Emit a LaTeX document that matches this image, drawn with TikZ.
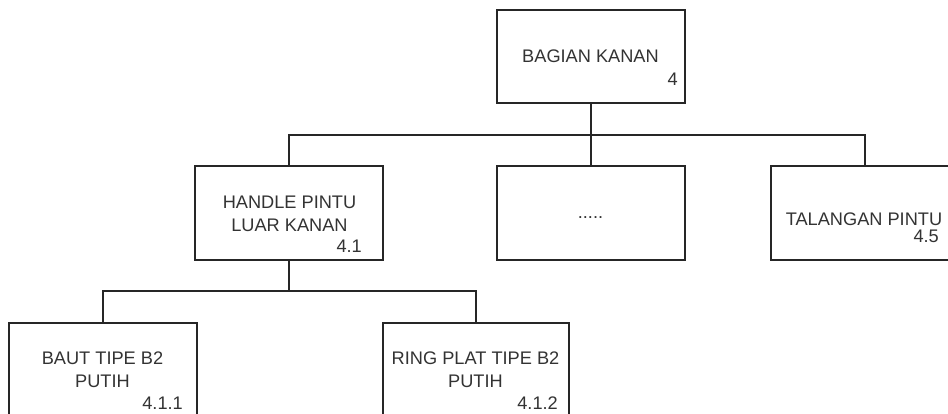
\documentclass[tikz,border=0pt]{standalone}
\usepackage{fontspec}
\setmainfont{Liberation Sans}
\begin{document}
\begin{tikzpicture}[x=1pt,y=-1pt,
  box/.style={draw=black!85,line width=1.5pt,rectangle,inner sep=0pt,fill=white},
  conn/.style={draw=black!85,line width=1.5pt},
  txt/.style={inner sep=0pt,anchor=base,text=black!80,font=\fontsize{18.2}{21}\selectfont},
  num/.style={inner sep=0pt,anchor=base east,text=black!80,font=\fontsize{18.2}{21}\selectfont}]
\useasboundingbox (0,0) rectangle (948,414);
\clip (0,0) rectangle (948,414);
\fill[white] (0,0) rectangle (948,414);
% boxes
\node[box,minimum width=188pt,minimum height=93pt] (top) at (591,56.5) {};
\node[box,minimum width=188pt,minimum height=94pt] (handle) at (289,213) {};
\node[box,minimum width=188pt,minimum height=94pt] (dots) at (591,213) {};
\node[box,minimum width=188pt,minimum height=94pt] (tal) at (865,213) {};
\node[box,minimum width=188pt,minimum height=94pt] (baut) at (103,370) {};
\node[box,minimum width=186pt,minimum height=94pt] (ring) at (476,370) {};
% bus coordinates
\coordinate (bus1) at (591,135);
\coordinate (bus2) at (289,291);
% connectors
\draw[conn] (top.south) -- (top.south |- bus1);
\draw[conn] (handle.north) |- (tal.north |- bus1) -- (tal.north);
\draw[conn] (dots.north) -- (dots.north |- bus1);
\draw[conn] (handle.south) -- (handle.south |- bus2);
\draw[conn] (baut.north) |- (ring.north |- bus2) -- (ring.north);
% texts
\node[txt] (t0) at (590.5,63) {BAGIAN KANAN};
\node[num] (n0) at (678,86) {4};
\node[txt] (t1a) at (289.5,209) {HANDLE PINTU};
\node[txt] (t1b) at (289.5,232) {LUAR KANAN};
\node[num] (n1) at (362,252) {4.1};
\node[txt] (t2) at (590.5,219) {.....};
\node[txt] (t3) at (864,226) {TALANGAN PINTU};
\node[num] (n3) at (939,243) {4.5};
\node[txt] (t4a) at (102.5,364) {BAUT TIPE B2};
\node[txt] (t4b) at (102.5,387) {PUTIH};
\node[num] (n4) at (183,409) {4.1.1};
\node[txt] (t5a) at (475.5,364) {RING PLAT TIPE B2};
\node[txt] (t5b) at (475.5,387) {PUTIH};
\node[num] (n5) at (558,409) {4.1.2};
\end{tikzpicture}
\end{document}
